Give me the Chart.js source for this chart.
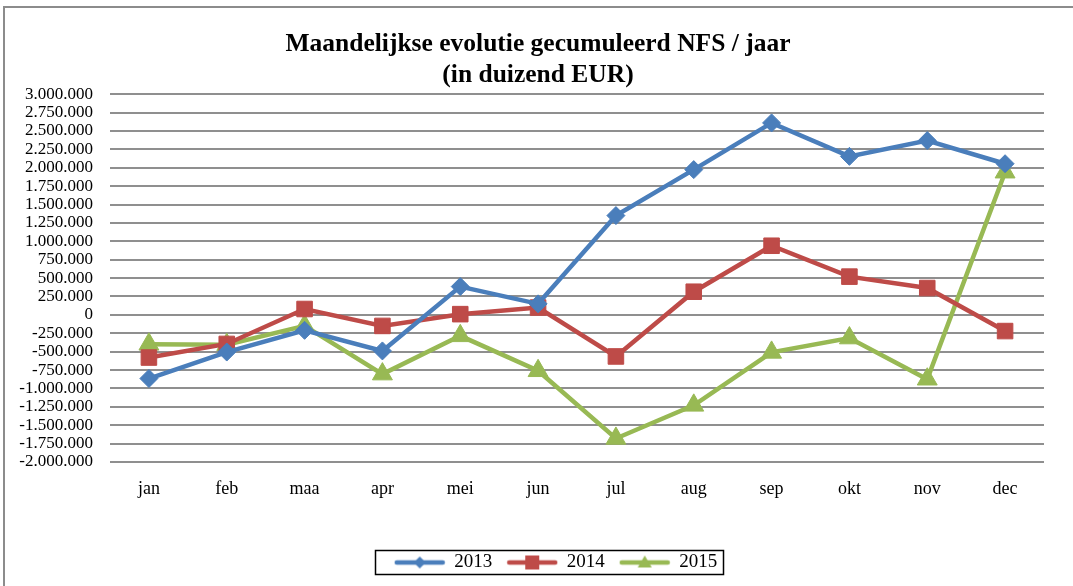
<!DOCTYPE html>
<html>
<head>
<meta charset="utf-8">
<script src="https://cdn.jsdelivr.net/npm/chart.js@4/dist/chart.umd.min.js"></script>
<style>
html,body{margin:0;padding:0;background:#fff;}
#wrap{position:relative;width:1073px;height:586px;}
</style>
</head>
<body>
<div id="wrap"><canvas id="c" width="1073" height="586"></canvas></div>
<script>
const months = ['jan','feb','maa','apr','mei','jun','jul','aug','sep','okt','nov','dec'];
const series2013 = [-865000,-505000,-210000,-490000,385000,150000,1350000,1975000,2610000,2155000,2370000,2055000];
const series2014 = [-580000,-395000,80000,-150000,10000,100000,-565000,315000,940000,520000,365000,-220000];
const series2015 = [-400000,-405000,-150000,-805000,-285000,-760000,-1680000,-1230000,-510000,-315000,-875000,1940000];
const seriesNames = ['2013','2014','2015'];
const yMin = -2000000, yMax = 3000000, yStep = 250000;
const titleLines = ['Maandelijkse evolutie gecumuleerd NFS / jaar','(in duizend EUR)'];

const colors = ['#4A7EBB','#BE4B48','#98B954'];
const styles = ['rectRot','rect','triangle'];
const radii = [9,11,11.5];
const serif = '"Liberation Serif","Times New Roman",serif';

function legendIcon(color, style){
  const cv = document.createElement('canvas');
  cv.width = 52; cv.height = 20;
  const g = cv.getContext('2d');
  g.strokeStyle = color; g.lineWidth = 4.5; g.lineCap='round';
  g.beginPath(); g.moveTo(3,10); g.lineTo(49,10); g.stroke();
  g.fillStyle = color;
  g.beginPath();
  if(style==='rectRot'){ g.moveTo(26,4); g.lineTo(32,10); g.lineTo(26,16); g.lineTo(20,10); g.closePath(); }
  else if(style==='rect'){ g.rect(19,3,14,14); }
  else { g.moveTo(26,3); g.lineTo(33,15); g.lineTo(19,15); g.closePath(); }
  g.fill();
  return cv;
}

function fmt(v){
  if(v===0) return '0';
  const s = Math.abs(v).toString().replace(/\B(?=(\d{3})+(?!\d))/g,'.');
  return (v<0?'-':'')+s;
}

const frame = {
  id:'frame',
  beforeDraw(chart){
    const ctx = chart.ctx;
    ctx.save();
    ctx.fillStyle='#fff'; ctx.fillRect(0,0,chart.width,chart.height);
    ctx.strokeStyle='#8c8c8c'; ctx.lineWidth=2;
    ctx.beginPath(); ctx.moveTo(4,600); ctx.lineTo(4,7); ctx.lineTo(1073,7); ctx.stroke();
    ctx.restore();
  },
  afterLayout(chart){
    const lg = chart.legend;
    if(lg){ lg.left += 29; lg.right += 29; }
    const tt = chart.titleBlock;
    if(tt){ tt.left += 11; tt.right += 11; }
  },
  afterDraw(chart){
    const lg = chart.legend;
    if(!lg || !lg.legendHitBoxes || !lg.legendHitBoxes.length) return;
    const hb = lg.legendHitBoxes;
    let l=Infinity,r=-Infinity,t=Infinity,b=-Infinity;
    hb.forEach(h=>{l=Math.min(l,h.left);r=Math.max(r,h.left+h.width);t=Math.min(t,h.top);b=Math.max(b,h.top+h.height);});
    const ctx=chart.ctx; ctx.save();
    ctx.strokeStyle='#000'; ctx.lineWidth=1.5;
    ctx.strokeRect(Math.round(l-20)+0.5, Math.round(t-3)+0.5, Math.round(r-l+25), Math.round(b-t+5));
    ctx.restore();
  }
};

const mk = (name, data, i) => ({
  label:name, data:data,
  borderColor:colors[i], backgroundColor:colors[i],
  borderWidth:4.5, pointStyle:styles[i], pointRadius:radii[i], pointHoverRadius:radii[i],
  pointBorderWidth:1, pointBackgroundColor:colors[i], pointBorderColor:colors[i],
  tension:0, fill:false
});

new Chart(document.getElementById('c'),{
  type:'line',
  data:{labels:months, datasets:[mk(seriesNames[0],series2013,0),mk(seriesNames[1],series2014,1),mk(seriesNames[2],series2015,2)]},
  options:{
    responsive:false, animation:false,
    layout:{padding:{top:29,left:10,right:29,bottom:4}},
    plugins:{
      title:{display:true,text:titleLines,color:'#000',font:{family:serif,size:25.5,weight:'bold',lineHeight:1.22},padding:{top:0,bottom:3}},
      legend:{position:'bottom',
        labels:{usePointStyle:true,pointStyleWidth:50,boxHeight:14,padding:15,color:'#000',
          font:{family:serif,size:19},
          generateLabels(chart){
            return chart.data.datasets.map((d,i)=>({text:d.label,pointStyle:legendIcon(colors[i],styles[i]),fillStyle:colors[i],strokeStyle:colors[i],lineWidth:0,hidden:false,datasetIndex:i,fontColor:'#000'}));
          }}
      },
      tooltip:{enabled:false}
    },
    scales:{
      x:{offset:true,grid:{display:false,offset:true},border:{display:false},
        afterFit(s){ s.height = 76; },
        ticks:{color:'#000',padding:8,maxRotation:0,font:{family:serif,size:18}}},
      y:{min:yMin,max:yMax,
        afterFit(s){ s.width = 100; },
        grid:{color:'#8f8f8f',lineWidth:2,drawTicks:false},border:{display:false},
        ticks:{stepSize:yStep,autoSkip:false,color:'#000',padding:17,callback:v=>fmt(v),
          font:{family:serif,size:17}}}
    }
  },
  plugins:[frame]
});
</script>
</body>
</html>
